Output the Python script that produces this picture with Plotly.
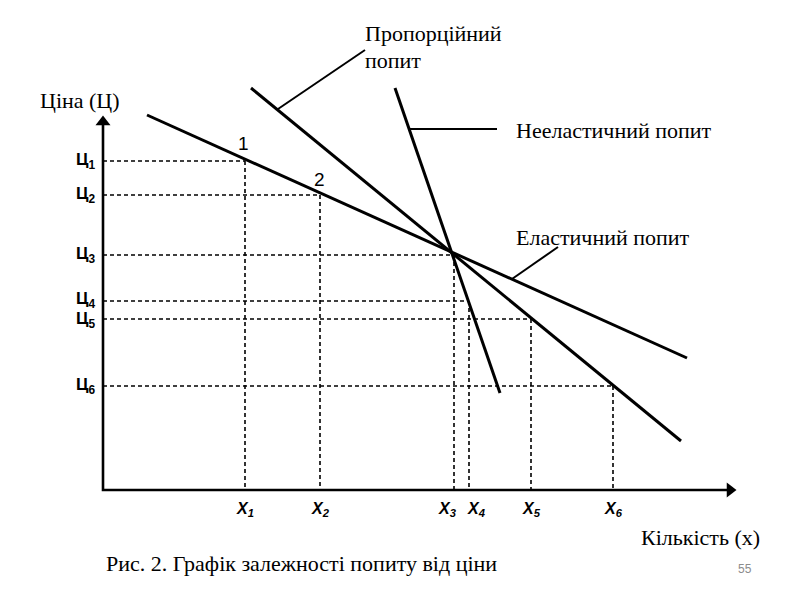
import plotly.graph_objects as go

# Units: quantity to the right of origin, price above origin (arbitrary units)
price_labels = ["Ц<sub>1</sub>", "Ц<sub>2</sub>", "Ц<sub>3</sub>", "Ц<sub>4</sub>", "Ц<sub>5</sub>", "Ц<sub>6</sub>"]
price_values = [329, 295, 235, 189, 171, 104]
qty_labels = ["X<sub>1</sub>", "X<sub>2</sub>", "X<sub>3</sub>", "X<sub>4</sub>", "X<sub>5</sub>", "X<sub>6</sub>"]
qty_values = [142, 217, 351, 366, 428, 510]

# Demand lines (start/end points)
elastic_x = [44, 584]
elastic_y = [375, 132]
proportional_x = [148, 578]
proportional_y = [402, 49]
inelastic_x = [292, 397]
inelastic_y = [402, 97]

# Axes extents
x_axis_end = 632
y_axis_end = 373

# Leader lines for labels
lead_prop_x = [175, 262]
lead_prop_y = [381, 440]
lead_inel_x = [305, 394]
lead_inel_y = [361, 361]
lead_el_x = [409, 455]
lead_el_y = [211, 243]

# label nudges (pixels) to keep crowded labels apart, as in the original
qty_label_shift = [0, 0, -7, 7, 0, 0]
price_label_shift = [0, 0, 0, 1, -1, 0]

fig = go.Figure()

dash_style = dict(color="black", width=1.6, dash="4px,3px")

# Dashed guide lines
for p, q in zip(price_values, qty_values):
    fig.add_trace(go.Scatter(x=[0, q], y=[p, p], mode="lines", line=dash_style, hoverinfo="skip"))
    fig.add_trace(go.Scatter(x=[q, q], y=[p, 0], mode="lines", line=dash_style, hoverinfo="skip"))

# Axes
fig.add_trace(go.Scatter(x=[0, 0, x_axis_end - 8], y=[y_axis_end - 8, 0, 0], mode="lines",
                         line=dict(color="black", width=2.6), hoverinfo="skip"))
fig.add_trace(go.Scatter(x=[0], y=[y_axis_end - 5], mode="markers",
                         marker=dict(symbol="triangle-up", size=13, color="black"), hoverinfo="skip"))
fig.add_trace(go.Scatter(x=[x_axis_end - 5], y=[0], mode="markers",
                         marker=dict(symbol="triangle-right", size=13, color="black"), hoverinfo="skip"))

# Demand lines
for xs, ys in [(elastic_x, elastic_y), (proportional_x, proportional_y), (inelastic_x, inelastic_y)]:
    fig.add_trace(go.Scatter(x=xs, y=ys, mode="lines", line=dict(color="black", width=3), hoverinfo="skip"))

# Leader lines
for xs, ys in [(lead_prop_x, lead_prop_y), (lead_inel_x, lead_inel_y), (lead_el_x, lead_el_y)]:
    fig.add_trace(go.Scatter(x=xs, y=ys, mode="lines", line=dict(color="black", width=2), hoverinfo="skip"))

ann = []
tick_font = dict(family="Liberation Sans Narrow, Liberation Sans, Arial", size=17, color="black")
for lab, p, s in zip(price_labels, price_values, price_label_shift):
    ann.append(dict(x=-6, y=p, yshift=s, text="<b>" + lab + "</b>", xanchor="right", yanchor="middle",
                    showarrow=False, font=tick_font))
for lab, q, s in zip(qty_labels, qty_values, qty_label_shift):
    ann.append(dict(x=q, y=-19, xshift=s, text="<b><i>" + lab + "</i></b>", xanchor="center", yanchor="middle",
                    showarrow=False, font=dict(family="Liberation Sans, Arial", size=16, color="black")))

# Point labels
ann.append(dict(x=qty_values[0] - 2, y=price_values[0] + 18, text="1", showarrow=False,
                font=dict(family="Liberation Sans, Arial", size=19, color="black")))
ann.append(dict(x=qty_values[1] - 1, y=price_values[1] + 16, text="2", showarrow=False,
                font=dict(family="Liberation Sans, Arial", size=19, color="black")))

serif = dict(family="Liberation Serif, Times New Roman", size=22, color="black")
ann.append(dict(x=-23, y=390, text="Ціна (Ц)", showarrow=False, xanchor="center", yanchor="middle", font=serif))
ann.append(dict(x=260, y=457, text="Пропорційний", showarrow=False, xanchor="left", yanchor="middle", font=serif))
ann.append(dict(x=260, y=430, text="попит", showarrow=False, xanchor="left", yanchor="middle", font=serif))
ann.append(dict(x=411, y=360, text="Нееластичний попит", showarrow=False, xanchor="left", yanchor="middle", font=serif))
ann.append(dict(x=411, y=253, text="Еластичний попит", showarrow=False, xanchor="left", yanchor="middle", font=serif))
ann.append(dict(x=536, y=-47, text="Кількість (x)", showarrow=False, xanchor="left", yanchor="middle", font=serif))
ann.append(dict(x=1, y=-73, text="Рис. 2. Графік залежності попиту від ціни", showarrow=False,
                xanchor="left", yanchor="middle", font=serif))
ann.append(dict(x=642, y=-79, text="55", showarrow=False, xanchor="center", yanchor="middle",
                font=dict(family="Liberation Sans, Arial", size=12, color="#8c8c8c")))

fig.update_layout(
    width=800, height=600,
    margin=dict(l=0, r=0, t=0, b=0),
    paper_bgcolor="white", plot_bgcolor="white",
    showlegend=False,
    xaxis=dict(range=[-95, 705], visible=False, fixedrange=True),
    yaxis=dict(range=[-118, 482], visible=False, fixedrange=True),
    annotations=ann,
)

fig.write_html("out.html")
